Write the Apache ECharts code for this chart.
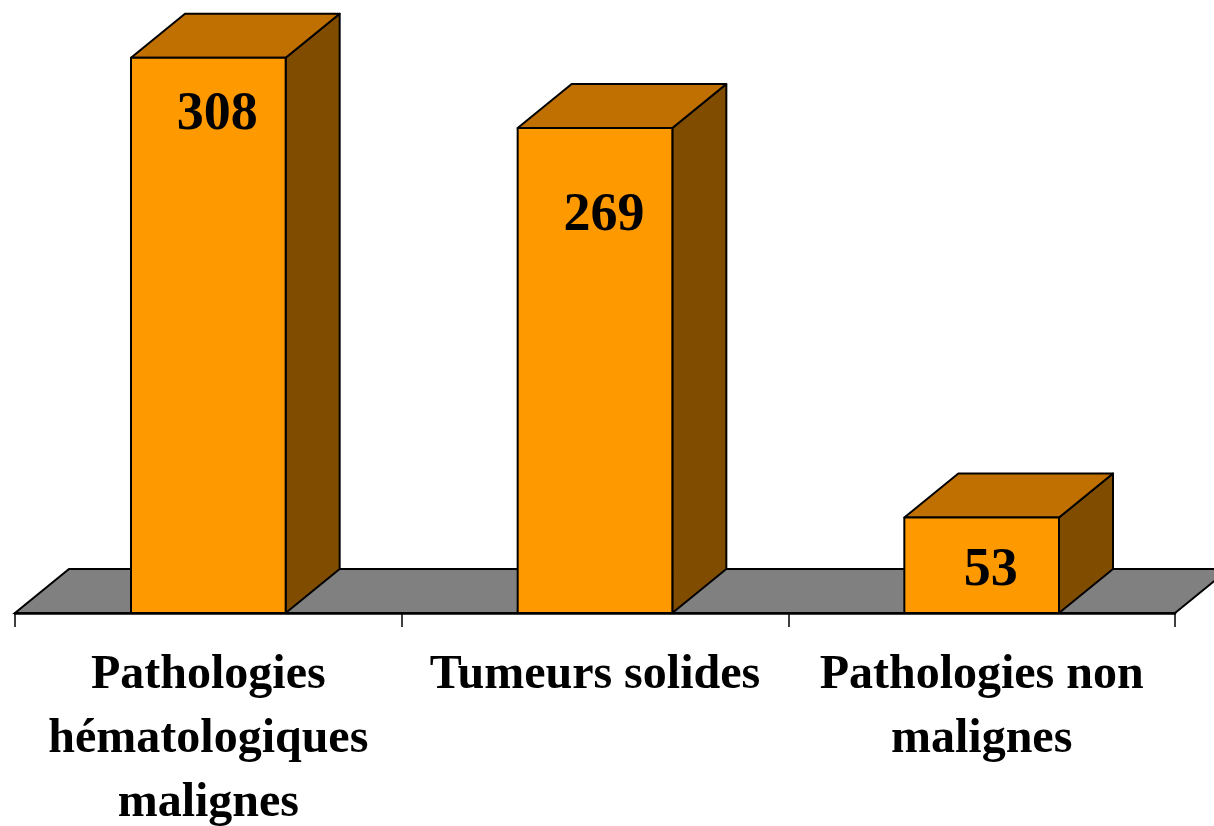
<!DOCTYPE html>
<html>
<head>
<meta charset="utf-8">
<style>
  html, body { margin: 0; padding: 0; background: #ffffff; }
  #chart { width: 1214px; height: 826px; }
</style>
<script src="https://cdn.jsdelivr.net/npm/echarts@6/dist/echarts.min.js"></script>
</head>
<body>
<div id="chart"></div>
<script>
// Categories and counts
const categories = [
  'Pathologies\nhématologiques\nmalignes',
  'Tumeurs solides',
  'Pathologies non\nmalignes'
];
const counts = [308, 269, 53];

// Pseudo-3D look
const DEPTH_X = 54;
const DEPTH_Y = 44;
const BAR_RATIO = 0.4;
const FONT = '"Liberation Serif", "Times New Roman", serif';
const COLORS = { front: '#FF9900', top: '#C07000', side: '#804C00', floor: '#808080', edge: '#000000' };
// vertical drop of each value label below the bar top, and horizontal nudge
const LABEL_DROP = [57, 88, 54];
const LABEL_NUDGE = 9;

const chart = echarts.init(document.getElementById('chart'), null, { renderer: 'canvas' });

function renderFloor(params, api) {
  const band = api.size([1, 0])[0];
  const first = api.coord([0, 0]);
  const last = api.coord([categories.length - 1, 0]);
  const L = first[0] - band / 2;
  const R = last[0] + band / 2;
  const y = first[1];
  return {
    type: 'polygon',
    shape: { points: [[L, y], [R, y], [R + DEPTH_X, y - DEPTH_Y], [L + DEPTH_X, y - DEPTH_Y]] },
    style: { fill: COLORS.floor, stroke: COLORS.edge, lineWidth: 2 }
  };
}

function renderBar(params, api) {
  const idx = api.value(0);
  const val = api.value(1);
  const base = api.coord([idx, 0]);
  const topPt = api.coord([idx, val]);
  const w = api.size([1, 0])[0] * BAR_RATIO;
  const x0 = base[0] - w / 2, x1 = base[0] + w / 2;
  const yb = base[1], yt = topPt[1];
  const edge = { stroke: COLORS.edge, lineWidth: 2, lineJoin: 'round' };
  return {
    type: 'group',
    children: [
      {
        type: 'polygon',
        shape: { points: [[x1, yt], [x1 + DEPTH_X, yt - DEPTH_Y], [x1 + DEPTH_X, yb - DEPTH_Y], [x1, yb]] },
        style: Object.assign({ fill: COLORS.side }, edge)
      },
      {
        type: 'polygon',
        shape: { points: [[x0, yt], [x1, yt], [x1 + DEPTH_X, yt - DEPTH_Y], [x0 + DEPTH_X, yt - DEPTH_Y]] },
        style: Object.assign({ fill: COLORS.top }, edge)
      },
      {
        type: 'rect',
        shape: { x: x0, y: yt, width: w, height: yb - yt },
        style: Object.assign({ fill: COLORS.front }, edge)
      },
      {
        type: 'text',
        x: base[0] + LABEL_NUDGE,
        y: yt + LABEL_DROP[params.dataIndex],
        style: {
          text: String(val),
          fill: '#000000',
          font: 'bold 54px ' + FONT,
          align: 'center',
          verticalAlign: 'middle'
        }
      }
    ]
  };
}

chart.setOption({
  animation: false,
  backgroundColor: '#ffffff',
  grid: { left: 15, right: 39, top: 0, bottom: 213, containLabel: false, outerBoundsMode: 'none' },
  xAxis: {
    type: 'category',
    data: categories,
    boundaryGap: true,
    z: 10,
    axisLine: { show: true, lineStyle: { color: '#000000', width: 2.5 } },
    axisTick: { show: true, alignWithLabel: false, length: 14, lineStyle: { color: '#000000', width: 1.5 } },
    axisLabel: {
      interval: 0,
      margin: 31,
      color: '#000000',
      fontFamily: FONT,
      fontWeight: 'bold',
      fontSize: 48,
      lineHeight: 64,
      align: 'center'
    },
    splitLine: { show: false }
  },
  yAxis: {
    type: 'value',
    min: 0,
    max: 340,
    show: false,
    splitLine: { show: false }
  },
  series: [
    {
      type: 'custom',
      z: 1,
      renderItem: renderFloor,
      data: [[0, 0]],
      silent: true
    },
    {
      type: 'custom',
      z: 2,
      renderItem: renderBar,
      encode: { x: 0, y: 1 },
      data: counts.map((v, i) => [i, v])
    }
  ]
});
</script>
</body>
</html>
